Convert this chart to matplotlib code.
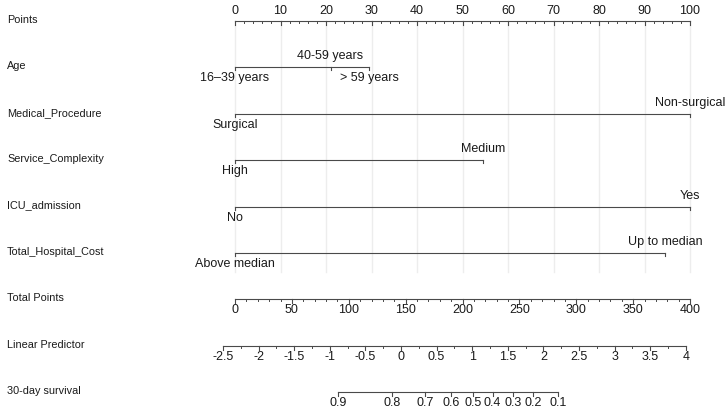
import numpy as np
import matplotlib
matplotlib.use("Agg")
import matplotlib.pyplot as plt

plt.rcParams['font.family'] = ['Liberation Sans', 'DejaVu Sans']

# row names, top to bottom
row_names = ["Points", "Age", "Medical_Procedure", "Service_Complexity",
             "ICU_admission", "Total_Hospital_Cost", "Total Points",
             "Linear Predictor", "30-day survival"]

# predictor levels and their points
age_levels = ["16\u201339 years", "40-59 years", "> 59 years"]
age_points = [0, 21, 29.5]
procedure_levels = ["Surgical", "Non-surgical"]
procedure_points = [0, 100]
complexity_levels = ["High", "Medium"]
complexity_points = [0, 54.5]
icu_levels = ["No", "Yes"]
icu_points = [0, 100]
cost_levels = ["Above median", "Up to median"]
cost_points = [0, 94.5]

# scales
points_ticks = np.arange(0, 101, 10)
points_minor = np.arange(0, 101, 2)
total_ticks = np.arange(0, 401, 50)
total_minor = np.arange(0, 401, 10)
lp_ticks = np.arange(-2.5, 4.01, 0.5)
lp_minor = np.arange(-2.5, 4.01, 0.25)
lp_zero_total = 145.9      # total points where linear predictor = 0
points_per_lp = 62.6
surv_ticks = [0.9, 0.8, 0.7, 0.6, 0.5, 0.4, 0.3, 0.2, 0.1]
surv_lp = [-0.881, -0.129, 0.342, 0.707, 1.008, 1.288, 1.569, 1.850, 2.210]

W, H = 728, 409
x0_px, px_per_pt = 235, 4.55
y0_px, px_per_row = 21, 46.4

fig = plt.figure(figsize=(W / 100, H / 100), dpi=100)
ax = fig.add_axes([0, 0, 1, 1])
ax.set_xlim(-x0_px / px_per_pt, (W - x0_px) / px_per_pt)
ax.set_ylim((H - y0_px) / px_per_row, -y0_px / px_per_row)
ax.axis("off")

line_c = "#4a4a4a"
text_c = "#1a1a1a"
grid_c = "#ededed"
px = 1 / px_per_row
major_len = 4 * px
minor_len = 2 * px
off = 11 * px


def total_to_x(t):
    return np.asarray(t) / 4.0


def lp_to_x(lp):
    return total_to_x(lp_zero_total + points_per_lp * np.asarray(lp))


# left labels
for i, name in enumerate(row_names):
    ax.text(-(x0_px - 7) / px_per_pt, i - 1 * px, name, ha="left", va="center",
            fontsize=7.8, color=text_c)

# grid lines
for t in points_ticks:
    ax.plot([t, t], [0, 5.4], color=grid_c, lw=1, zorder=0)


def draw_axis(row, xs_major, labels, xs_minor, above=False):
    ax.plot([min(xs_major.min(), xs_minor.min()), max(xs_major.max(), xs_minor.max())],
            [row, row], color=line_c, lw=0.8)
    for x in xs_minor:
        ax.plot([x, x], [row, row + minor_len], color=line_c, lw=0.7)
    for x, lab in zip(xs_major, labels):
        ax.plot([x, x], [row, row + major_len], color=line_c, lw=0.8)
        y = row - 9.5 * px if above else row + off
        ax.text(x, y, lab, ha="center", va="center", fontsize=9, color=text_c)


# Points
draw_axis(0, points_ticks.astype(float), [str(t) for t in points_ticks],
          points_minor.astype(float), above=True)

# predictors
predictors = [(age_levels, age_points), (procedure_levels, procedure_points),
              (complexity_levels, complexity_points), (icu_levels, icu_points),
              (cost_levels, cost_points)]
for i, (levels, pts) in enumerate(predictors, start=1):
    ax.plot([min(pts), max(pts)], [i, i], color=line_c, lw=0.8)
    for k, (lab, p) in enumerate(zip(levels, pts)):
        ax.plot([p, p], [i, i + 3 * px], color=line_c, lw=0.8)
        y = i + off if k % 2 == 0 else i - off
        ax.text(p, y, lab, ha="center", va="center", fontsize=9, color=text_c)

# Total Points
draw_axis(6, total_to_x(total_ticks), [str(t) for t in total_ticks],
          total_to_x(total_minor))

# Linear Predictor
draw_axis(7, lp_to_x(lp_ticks), ["%g" % v for v in lp_ticks], lp_to_x(lp_minor))

# 30-day survival
sx = lp_to_x(surv_lp)
draw_axis(8, sx, ["%g" % s for s in surv_ticks], sx)

fig.savefig("out.png", dpi=100)
